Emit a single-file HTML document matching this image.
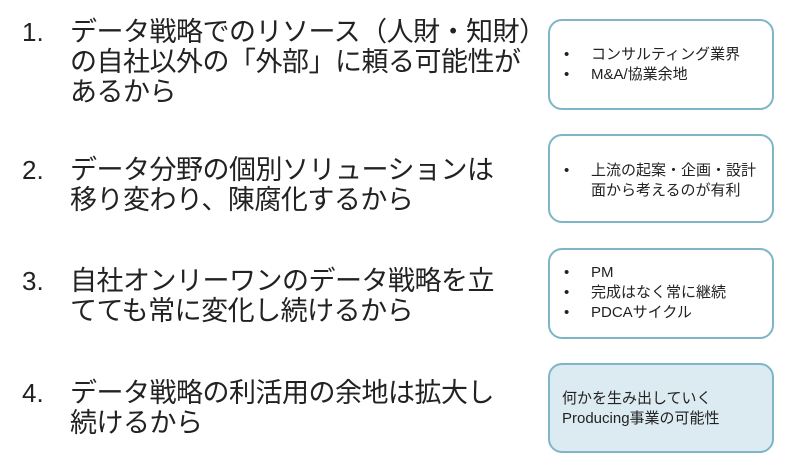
<!DOCTYPE html>
<html><head><meta charset="utf-8"><style>
body{margin:0;width:800px;height:460px;background:#fff;position:relative;overflow:hidden;font-family:"Liberation Sans","Noto Sans CJK JP",sans-serif;color:#222}
.n{position:absolute;left:22px;font-size:26px;line-height:30px}
.t{position:absolute;left:70px;font-size:27px;line-height:30px;white-space:nowrap;letter-spacing:-0.5px}
.b{position:absolute;left:548px;width:226px;border:2px solid #7fb5c4;border-radius:14px;background:#fff;box-sizing:border-box}
.l{position:absolute;font-size:15px;line-height:20px;white-space:nowrap}
.d{position:absolute;left:14px}
.x{position:absolute;left:41px}
</style></head><body>
<div class="n" style="top:17px">1.</div>
<div class="t" style="top:17px">データ戦略でのリソース（人財・知財）<br>の自社以外の「外部」に頼る可能性が<br>あるから</div>
<div class="n" style="top:155px">2.</div>
<div class="t" style="top:155px">データ分野の個別ソリューションは<br>移り変わり、陳腐化するから</div>
<div class="n" style="top:266px">3.</div>
<div class="t" style="top:266px">自社オンリーワンのデータ戦略を立<br>てても常に変化し続けるから</div>
<div class="n" style="top:378px">4.</div>
<div class="t" style="top:378px">データ戦略の利活用の余地は拡大し<br>続けるから</div>

<div class="b" style="top:19px;height:91px">
<div class="l" style="top:24px;width:100%"><span class="d">•</span><span class="x">コンサルティング業界</span></div>
<div class="l" style="top:44px;width:100%"><span class="d">•</span><span class="x">M&amp;A/協業余地</span></div>
</div>
<div class="b" style="top:134px;height:89px">
<div class="l" style="top:25px;width:100%"><span class="d">•</span><span class="x">上流の起案・企画・設計<br>面から考えるのが有利</span></div>
</div>
<div class="b" style="top:248px;height:91px">
<div class="l" style="top:13px;width:100%"><span class="d">•</span><span class="x">PM</span></div>
<div class="l" style="top:33px;width:100%"><span class="d">•</span><span class="x">完成はなく常に継続</span></div>
<div class="l" style="top:53px;width:100%"><span class="d">•</span><span class="x">PDCAサイクル</span></div>
</div>
<div class="b" style="top:363px;height:90px;background:#dcebf1">
<div class="l" style="top:24px;left:12px">何かを生み出していく<br>Producing事業の可能性</div>
</div>
</body></html>
